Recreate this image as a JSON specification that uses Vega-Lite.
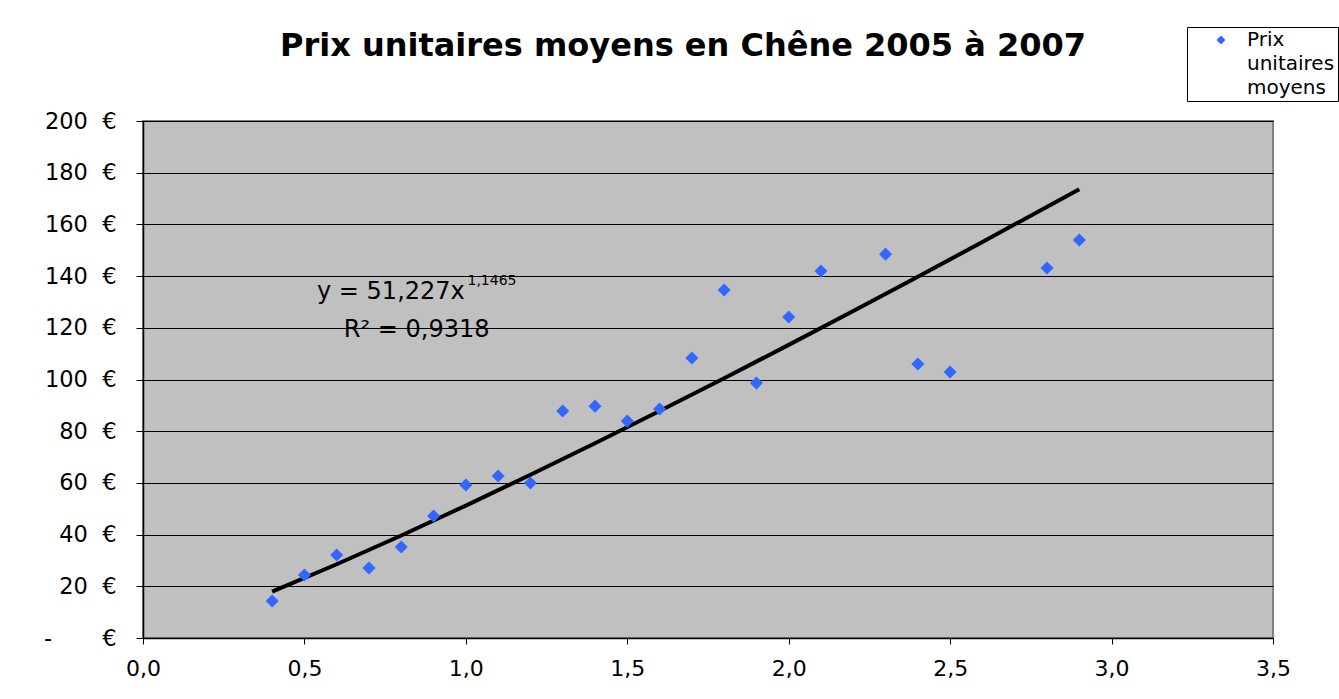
{
  "$schema": "https://vega.github.io/schema/vega-lite/v6.json",
  "width": 1130,
  "height": 517,
  "autosize": {"type": "none"},
  "padding": {"left": 143, "top": 121, "right": 66, "bottom": 61},
  "background": "white",
  "config": {
    "font": "DejaVu Sans",
    "view": {"fill": "#C0C0C0", "stroke": "#808080", "strokeWidth": 2},
    "axis": {"labelFont": "DejaVu Sans", "labelColor": "black", "domainColor": "black", "tickColor": "black"},
    "style": {"guide-label": {"lineHeight": 24}}
  },
  "title": {
    "text": "Prix unitaires moyens en Chêne 2005 à 2007",
    "font": "DejaVu Sans",
    "fontSize": 32,
    "fontWeight": "bold",
    "color": "black",
    "anchor": "middle",
    "baseline": "alphabetic",
    "dx": -25,
    "offset": 0,
    "dy": 61
  },
  "datasets": {
    "points": [
      {"x": 0.4, "y": 14.3}, {"x": 0.5, "y": 24.4}, {"x": 0.6, "y": 32.1}, {"x": 0.7, "y": 27.1},
      {"x": 0.8, "y": 35.2}, {"x": 0.9, "y": 47.2}, {"x": 1.0, "y": 59.2}, {"x": 1.1, "y": 62.7},
      {"x": 1.2, "y": 60.0}, {"x": 1.3, "y": 87.8}, {"x": 1.4, "y": 89.7}, {"x": 1.5, "y": 83.9},
      {"x": 1.6, "y": 88.6}, {"x": 1.7, "y": 108.3}, {"x": 1.8, "y": 134.6}, {"x": 1.9, "y": 98.6},
      {"x": 2.0, "y": 124.2}, {"x": 2.1, "y": 142.0}, {"x": 2.3, "y": 148.5}, {"x": 2.4, "y": 106.0},
      {"x": 2.5, "y": 102.9}, {"x": 2.8, "y": 143.1}, {"x": 2.9, "y": 154.0}
    ],
    "trend": [
      {"x": 0.4, "y": 17.92}, {"x": 0.6, "y": 28.52}, {"x": 0.8, "y": 39.66}, {"x": 1.0, "y": 51.23},
      {"x": 1.2, "y": 63.14}, {"x": 1.4, "y": 75.34}, {"x": 1.6, "y": 87.81}, {"x": 1.8, "y": 100.50},
      {"x": 2.0, "y": 113.40}, {"x": 2.2, "y": 126.50}, {"x": 2.4, "y": 139.77}, {"x": 2.6, "y": 153.20},
      {"x": 2.9, "y": 173.63}
    ],
    "notes": [
      {"x": 0.539, "y": 131.1, "label": "y = 51,227x", "size": 24},
      {"x": 1.005, "y": 136.6, "label": "1,1465", "size": 14},
      {"x": 0.622, "y": 116.4, "label": "R² = 0,9318", "size": 24}
    ]
  },
  "layer": [
    {
      "data": {"name": "trend"},
      "mark": {"type": "line", "color": "black", "strokeWidth": 4},
      "encoding": {
        "x": {"field": "x", "type": "quantitative", "scale": {"domain": [0, 3.5], "nice": false},
          "axis": {"values": [0, 0.5, 1, 1.5, 2, 2.5, 3, 3.5], "title": null, "grid": false,
            "labelExpr": "replace(format(datum.value, '.1f'), '.', ',')",
            "labelFlush": false, "labelOverlap": false,
            "labelFontSize": 22, "tickSize": 6, "labelPadding": 14, "domainWidth": 1.5}},
        "y": {"field": "y", "type": "quantitative", "scale": {"domain": [0, 200], "nice": false},
          "axis": {"values": [0, 20, 40, 60, 80, 100, 120, 140, 160, 180, 200], "title": null, "grid": true,
            "gridColor": "black", "gridOpacity": 1, "gridWidth": 1.2,
            "labelFlush": false, "labelOverlap": false,
            "labelExpr": "datum.value == 0 ? '-\u00a0\u00a0\u00a0\u00a0\u00a0\u00a0\u00a0€' : datum.value + '\u00a0\u00a0€'",
            "labelFontSize": 22.5, "tickSize": 7, "labelPadding": 20, "domainWidth": 1.5}}
      }
    },
    {
      "data": {"name": "points"},
      "mark": {"type": "point", "shape": "diamond", "filled": true, "size": 170, "opacity": 1},
      "encoding": {
        "x": {"field": "x", "type": "quantitative"},
        "y": {"field": "y", "type": "quantitative"},
        "color": {"datum": "Prix unitaires moyens", "type": "nominal",
          "scale": {"range": ["#3366FF"]},
          "legend": {"title": null, "orient": "none", "legendX": 1044, "legendY": -94,
            "strokeColor": "black", "fillColor": "white", "padding": 3,
            "symbolType": "diamond", "symbolSize": 80, "symbolOffset": 21,
            "labelFontSize": 20, "labelFont": "DejaVu Sans", "labelColor": "black",
            "labelExpr": "['Prix', 'unitaires', 'moyens']", "labelBaseline": "middle", "labelOffset": 16,
            "labelLimit": 300}}
      }
    },
    {
      "data": {"name": "notes"},
      "mark": {"type": "text", "align": "left", "baseline": "alphabetic", "color": "black", "font": "DejaVu Sans"},
      "encoding": {
        "x": {"field": "x", "type": "quantitative"},
        "y": {"field": "y", "type": "quantitative"},
        "text": {"field": "label"},
        "size": {"field": "size", "type": "quantitative", "scale": null, "legend": null}
      }
    }
  ]
}
